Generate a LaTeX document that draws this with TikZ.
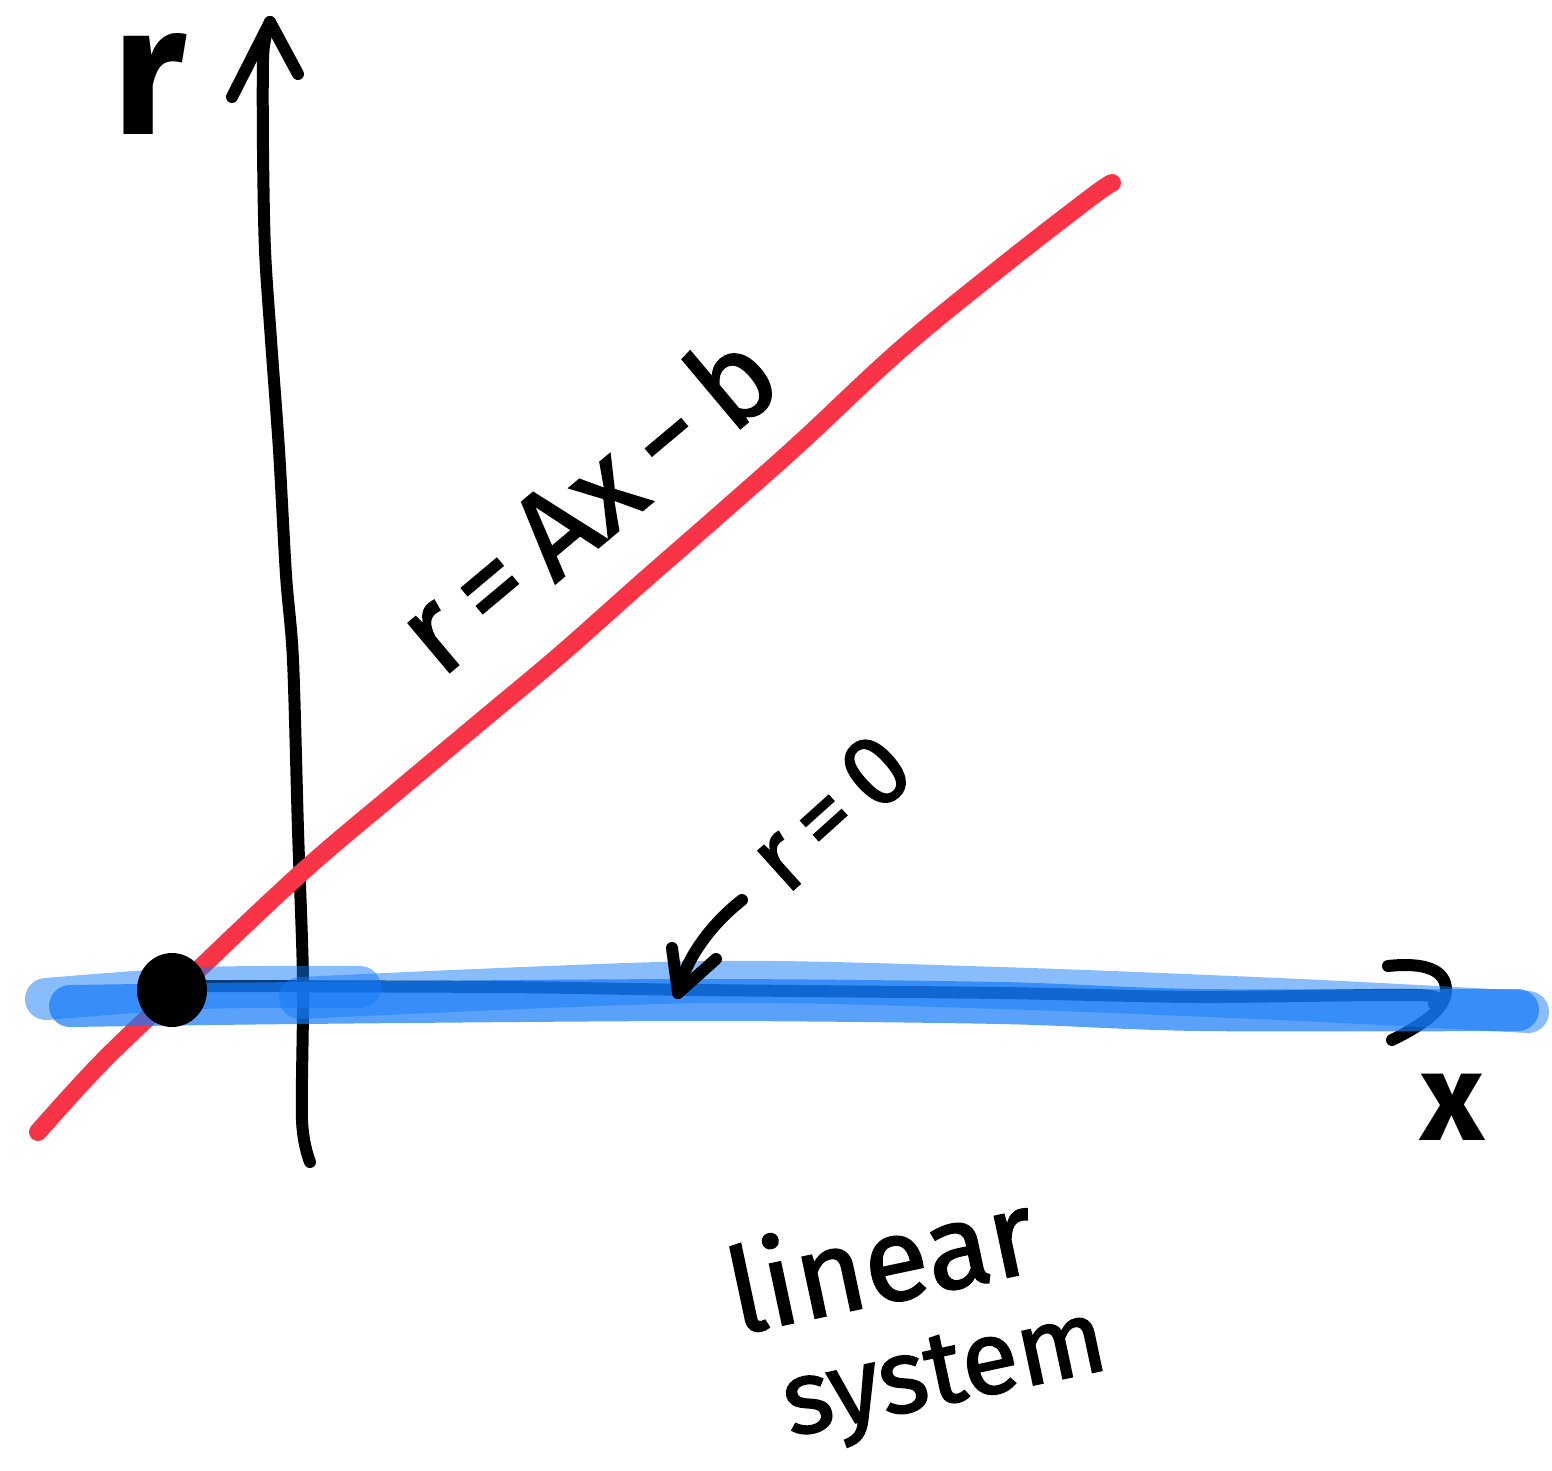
\documentclass[tikz,border=0pt]{standalone}
\usepackage{fontspec}
\setmainfont{Fira Sans}
\newfontfamily\handfont{Fira Sans}[FakeBold=1.5]
\definecolor{redc}{RGB}{249,52,71}
\definecolor{hl}{RGB}{20,122,247}
\begin{document}
\begin{tikzpicture}[x=1pt,y=-1pt,
  inkline/.style={line width=12pt,line cap=round,line join=round},
  redline/.style={draw=redc,line width=18pt,line cap=round,line join=round},
  hlight/.style={draw=hl,line width=42pt,line cap=round,draw opacity=0.5},
  hmain/.style={draw=hl,line width=42pt,line cap=round,draw opacity=0.7},
  lbl/.style={inner sep=0pt,outer sep=0pt,text=black}]
\useasboundingbox (0,0) rectangle (1552,1470);
% vertical axis with hand-drawn arrow head
\draw[inkline] plot[smooth,tension=0.5] coordinates {(310,1162) (302,1120) (303,980) (298,830) (293,660) (286,575) (279,450) (271,340) (265,250) (263,150) (263,60) (266,35) (270,22)};
\draw[inkline] (232,97) -- (270,22) -- (298,74);
% horizontal axis
\draw[inkline] plot[smooth,tension=0.5] coordinates {(190,986) (500,987) (700,990) (1000,993) (1200,997) (1418,995) (1434,1004)};
\draw[inkline] (1388,966) .. controls (1425,962) and (1446,970) .. (1446,990) .. controls (1446,1010) and (1420,1026) .. (1392,1040);
% residual line
\draw[redline] plot[smooth,tension=0.6] coordinates {(38,1132) (100,1064) (175,992) (300,874) (400,789) (480,722) (560,655) (640,584) (720,514) (800,443) (900,350) (1000,268) (1090,198) (1112,183)};
% blue highlight
\draw[hlight] plot[smooth,tension=0.5] coordinates {(46,999) (200,988) (360,987)};
\draw[hlight] plot[smooth,tension=0.5] coordinates {(300,998) (700,982) (1000,988) (1300,1000) (1528,1012)};
\draw[hmain] plot[smooth,tension=0.5] coordinates {(70,1006) (300,1003) (700,1000) (1000,1003) (1200,1010) (1518,1010)};
% solution point
\fill[black] (172,990) ellipse (35 and 37);
% labels
\node[lbl,font=\bfseries\fontsize{185}{185}\selectfont] (rlabel) at (150,84) {r};
\node[lbl,font=\bfseries\fontsize{125}{125}\selectfont] (xlabel) at (1452,1107) {x};
\node[lbl,rotate=40,font=\handfont\fontsize{122}{122}\selectfont] (reqn) at (585,500) {r\,=\,Ax\,−\,b};
\node[lbl,rotate=42,font=\handfont\fontsize{100}{100}\selectfont] (rzero) at (830,812) {r\,=\,0};
\node[lbl,rotate=12,font=\handfont\fontsize{118}{118}\selectfont] (linear) at (880,1258) {linear};
\node[lbl,rotate=12,font=\handfont\fontsize{104}{104}\selectfont] (system) at (946,1380) {system};
% arrow from r=0 to the axis
\coordinate (arrtail) at (742,900);
\coordinate (arrtip) at (678,993);
\draw[inkline] (arrtail) .. controls (710,925) and (685,960) .. (arrtip);
\draw[inkline] (672,948) -- (arrtip) -- (716,959);
\end{tikzpicture}
\end{document}
